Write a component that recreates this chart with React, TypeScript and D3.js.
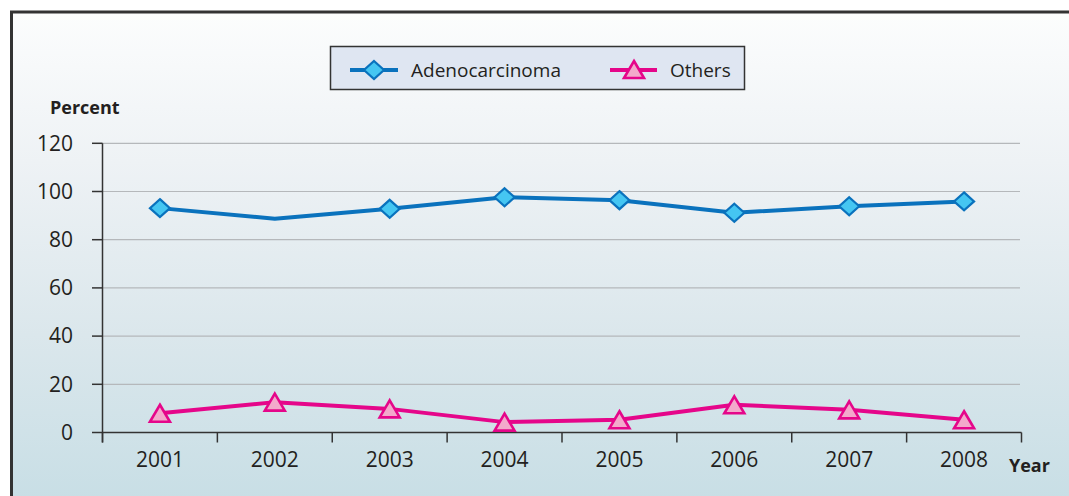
import React from "react";
import * as d3 from "d3";

const years = ["2001", "2002", "2003", "2004", "2005", "2006", "2007", "2008"];
const adenoValues = [93.1, 88.7, 92.8, 97.6, 96.4, 91.2, 93.9, 95.9];
const adenoMarker = [true, false, true, true, true, true, true, true];
const othersValues = [8.0, 12.6, 9.8, 4.3, 5.3, 11.5, 9.4, 5.3];
const yTicks = [0, 20, 40, 60, 80, 100, 120];
const seriesNames = ["Adenocarcinoma", "Others"];

const W = 1069;
const H = 496;
const FONT = "'Open Sans', 'Noto Sans', sans-serif";
const BLUE = "#0a72bd";
const BLUE_FILL = "#45c6f2";
const PINK = "#e5068a";
const PINK_FILL = "#f3a9cb";

const diamond = (cx: number, cy: number, hw = 10, hh = 9) =>
  `M${cx},${cy - hh}L${cx + hw},${cy}L${cx},${cy + hh}L${cx - hw},${cy}Z`;
const triangle = (cx: number, cy: number, hw = 10, hh = 8.5) =>
  `M${cx},${cy - hh}L${cx + hw},${cy + hh}L${cx - hw},${cy + hh}Z`;

export default function App() {
  const x = d3.scaleBand<string>().domain(years).range([102.5, 1021.5]).padding(0);
  const y = d3.scaleLinear().domain([0, 120]).range([432.5, 143.3]);
  const cx = (yr: string) => (x(yr) as number) + x.bandwidth() / 2;

  const line = d3
    .line<number>()
    .x((_, i) => cx(years[i]))
    .y((v) => y(v));

  const xTickPositions = [...years.map((yr) => x(yr) as number), x.range()[1]];

  return (
    <svg
      width={W}
      height={H}
      style={{ position: "absolute", left: 0, top: 0, display: "block" }}
    >
      <defs>
        <linearGradient id="bg" x1="0" y1="0" x2="0" y2="1">
          <stop offset="0" stopColor="#fcfdfd" />
          <stop offset="0.3" stopColor="#eef2f5" />
          <stop offset="0.65" stopColor="#dbe7ec" />
          <stop offset="1" stopColor="#c7dee5" />
        </linearGradient>
      </defs>
      <rect x={0} y={0} width={W} height={H} fill="#ffffff" />
      <rect x={11} y={12} width={W} height={H} fill="url(#bg)" />
      <line x1={11.5} y1={12} x2={11.5} y2={H} stroke="#333" strokeWidth={3} />
      <line x1={10} y1={12} x2={W} y2={12} stroke="#333" strokeWidth={3} />

      {/* gridlines */}
      {yTicks.slice(1).map((t) => (
        <line key={t} x1={102.5} x2={1020} y1={y(t)} y2={y(t)} stroke="#b5b8bb" strokeWidth={1.2} />
      ))}

      {/* y axis */}
      <line x1={102.5} x2={102.5} y1={y(120)} y2={y(0) + 10} stroke="#333" strokeWidth={1.5} />
      {yTicks.map((t) => (
        <g key={t}>
          <line x1={92} x2={102.5} y1={y(t)} y2={y(t)} stroke="#333" strokeWidth={1.5} />
          <text
            x={73}
            y={y(t)}
            dy="0.35em"
            textAnchor="end"
            fontFamily={FONT}
            fontSize={21}
            fill="#231f20"
          >
            {t}
          </text>
        </g>
      ))}

      {/* x axis */}
      <line x1={102.5} x2={1021.5} y1={y(0)} y2={y(0)} stroke="#333" strokeWidth={1.5} />
      {xTickPositions.map((p, i) => (
        <line key={i} x1={p} x2={p} y1={y(0)} y2={y(0) + 10} stroke="#333" strokeWidth={1.5} />
      ))}
      {years.map((yr) => (
        <text
          key={yr}
          x={cx(yr)}
          y={460}
          dy="0.35em"
          textAnchor="middle"
          fontFamily={FONT}
          fontSize={21}
          fill="#231f20"
        >
          {yr}
        </text>
      ))}

      <text x={50} y={108} dy="0.35em" fontFamily={FONT} fontSize={18} fontWeight={700} fill="#231f20">
        Percent
      </text>
      <text x={1009} y={466} dy="0.35em" fontFamily={FONT} fontSize={18} fontWeight={700} fill="#231f20">
        Year
      </text>

      {/* series */}
      <path d={line(adenoValues) || ""} fill="none" stroke={BLUE} strokeWidth={4} strokeLinejoin="round" />
      {adenoValues.map((v, i) =>
        adenoMarker[i] ? (
          <path key={i} d={diamond(cx(years[i]), y(v))} fill={BLUE_FILL} stroke={BLUE} strokeWidth={2.2} />
        ) : null
      )}
      <path d={line(othersValues) || ""} fill="none" stroke={PINK} strokeWidth={4} strokeLinejoin="round" />
      {othersValues.map((v, i) => (
        <path key={i} d={triangle(cx(years[i]), y(v))} fill={PINK_FILL} stroke={PINK} strokeWidth={2.6} />
      ))}

      {/* legend */}
      <rect x={330.5} y={46.5} width={414} height={43} fill="#dfe6f2" stroke="#333" strokeWidth={1.5} />
      <line x1={350} x2={398} y1={70} y2={70} stroke={BLUE} strokeWidth={4} />
      <path d={diamond(374, 70)} fill={BLUE_FILL} stroke={BLUE} strokeWidth={2.2} />
      <text x={411} y={70} dy="0.35em" fontFamily={FONT} fontSize={19} fill="#231f20">
        {seriesNames[0]}
      </text>
      <line x1={610} x2={657} y1={70} y2={70} stroke={PINK} strokeWidth={4} />
      <path d={triangle(634, 69.5)} fill={PINK_FILL} stroke={PINK} strokeWidth={2.6} />
      <text x={670} y={70} dy="0.35em" fontFamily={FONT} fontSize={19} fill="#231f20">
        {seriesNames[1]}
      </text>
    </svg>
  );
}
